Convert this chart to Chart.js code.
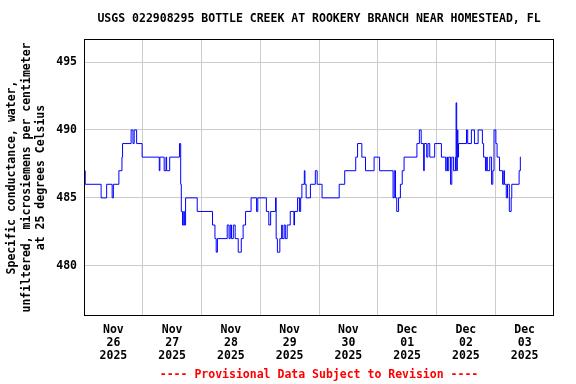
<!DOCTYPE html>
<html lang="en">
<head>
    <meta charset="UTF-8">
    <title>Bottle Creek Specific Conductance</title>
    <script src="https://cdn.jsdelivr.net/npm/chart.js"></script>
    <style>
        body {
            margin: 0;
            padding: 0;
            background-color: #fff;
        }
        canvas {
            display: block;
        }
    </style>
</head>
<body>
    <canvas id="condChart" width="576" height="384"></canvas>

    <script>
        // hours since Nov 26 2025 00:00 where the reading changes
        const hours = [
            0, 0.5, 7, 9.25, 11.5, 12, 14.25, 15.5, 15.75, 19.25,
            20, 20.5, 21.5, 23.75, 30.75, 31, 32.75, 33.5, 33.75, 35,
            39, 39.5, 39.75, 40.25, 40.75, 41, 41.5, 46.25, 52.5, 53.5,
            54, 54.5, 58.5, 59.25, 59.75, 60.25, 61, 61.75, 63, 64.25,
            65, 66, 68.25, 70.5, 71, 74.5, 75.5, 76.25, 78.25, 78.5,
            79, 80, 80.75, 81, 81.75, 82.25, 83, 84.25, 85.75, 86,
            87.25, 88, 88.5, 89, 90, 90.25, 90.75, 92.5, 94.5, 95.25,
            97.25, 104.25, 106.5, 111, 111.75, 113.5, 115, 118.5, 120.75, 126.25,
            126.75, 127.25, 127.75, 128.5, 129.25, 130, 130.75, 136, 137, 137.75,
            138.75, 139, 140, 140.5, 141.25, 143.25, 146, 147.75, 148.25, 148.5,
            149, 149.75, 150.25, 151, 151.75, 152, 152.25, 152.5, 152.75, 153,
            156.25, 156.75, 158.25, 159.5, 161, 162.75, 163.25, 164, 164.5, 164.75,
            165.75, 166.5, 167, 167.5, 168.25, 168.75, 169.75, 171, 171.5, 171.75,
            172.5, 173, 173.75, 174.5, 174.75, 177.75, 178.25, 178.5
        ];
        const conductance = [
            487, 486, 485, 486, 485, 486, 487, 488, 489, 490,
            489, 490, 489, 488, 487, 488, 487, 488, 487, 488,
            489, 486, 484, 483, 484, 483, 485, 484, 483, 482,
            481, 482, 483, 482, 483, 482, 483, 482, 481, 482,
            483, 484, 485, 484, 485, 484, 483, 484, 485, 482,
            481, 482, 483, 482, 483, 482, 483, 484, 483, 484,
            485, 484, 485, 486, 487, 486, 485, 486, 487, 486,
            485, 486, 487, 488, 489, 488, 487, 488, 487, 485,
            487, 485, 484, 485, 486, 487, 488, 489, 490, 489,
            487, 489, 488, 489, 488, 489, 488, 487, 488, 487,
            488, 486, 488, 487, 488, 492, 487, 490, 488, 489,
            490, 489, 490, 489, 490, 489, 488, 487, 488, 487,
            488, 486, 487, 490, 489, 488, 487, 486, 487, 486,
            485, 486, 484, 485, 486, 487, 488, 488
        ];

        const tickMonths = ['Nov', 'Nov', 'Nov', 'Nov', 'Nov', 'Dec', 'Dec', 'Dec'];
        const tickDays = ['26', '27', '28', '29', '30', '01', '02', '03'];
        const tickYear = '2025';
        const yTicks = [480, 485, 490, 495];

        const chartTitle = 'USGS 022908295 BOTTLE CREEK AT ROOKERY BRANCH NEAR HOMESTEAD, FL';
        const yTitle = ['Specific conductance, water,', 'unfiltered, microsiemens per centimeter', 'at 25 degrees Celsius'];
        const footer = '---- Provisional Data Subject to Revision ----';

        const FONT = 'bold 11.5px "DejaVu Sans Mono"';

        // title, axis caption, footer and plot frame
        const decorations = {
            id: 'decorations',
            afterDraw(chart) {
                const ctx = chart.ctx;
                const a = chart.chartArea;
                const cx = (a.left + a.right) / 2;
                ctx.save();
                ctx.font = FONT;
                ctx.textAlign = 'center';
                ctx.textBaseline = 'middle';
                ctx.fillStyle = '#000';
                ctx.fillText(chartTitle, cx, 19);

                ctx.fillStyle = '#ff0000';
                ctx.fillText(footer, cx, 375);

                ctx.fillStyle = '#000';
                const cy = (a.top + a.bottom) / 2;
                yTitle.forEach((line, i) => {
                    ctx.save();
                    ctx.translate(12 + i * 14.7, cy);
                    ctx.rotate(-Math.PI / 2);
                    ctx.fillText(line, 0, 0);
                    ctx.restore();
                });

                ctx.strokeStyle = '#000';
                ctx.lineWidth = 1;
                ctx.strokeRect(a.left + 0.5, a.top + 0.5, a.right - a.left - 1, a.bottom - a.top - 1);
                ctx.restore();
            }
        };

        const points = hours.map((h, i) => ({ x: h, y: conductance[i] }));

        new Chart(document.getElementById('condChart'), {
            type: 'line',
            data: {
                datasets: [{
                    data: points,
                    borderColor: '#0000ff',
                    borderWidth: 1,
                    pointRadius: 0,
                    stepped: true,
                    fill: false
                }]
            },
            options: {
                responsive: false,
                animation: false,
                layout: { padding: { left: 0, right: 22, top: 39, bottom: 0 } },
                plugins: {
                    legend: { display: false },
                    tooltip: { enabled: false }
                },
                scales: {
                    x: {
                        type: 'linear',
                        min: 0,
                        max: 192,
                        afterBuildTicks: axis => {
                            const t = [];
                            for (let h = 0; h <= 192; h += 12) t.push({ value: h });
                            axis.ticks = t;
                        },
                        afterFit: axis => { axis.height = 68; },
                        border: { display: false },
                        grid: {
                            drawTicks: false,
                            color: c => (c.tick && c.tick.value % 24 === 0 && c.tick.value > 0 && c.tick.value < 192) ? '#cccccc' : 'rgba(0,0,0,0)',
                            lineWidth: 1
                        },
                        ticks: {
                            autoSkip: false,
                            maxRotation: 0,
                            padding: 8,
                            color: '#000',
                            font: { family: 'DejaVu Sans Mono', size: 11.5, weight: 'bold', lineHeight: 1.1 },
                            callback: v => {
                                if (v % 24 !== 12) return '';
                                const d = (v - 12) / 24;
                                return [tickMonths[d], tickDays[d], tickYear];
                            }
                        }
                    },
                    y: {
                        min: 476.3,
                        max: 496.7,
                        afterBuildTicks: axis => { axis.ticks = yTicks.map(v => ({ value: v })); },
                        afterFit: axis => { axis.width = 84; },
                        border: { display: false },
                        grid: { drawTicks: false, color: '#cccccc', lineWidth: 1 },
                        ticks: {
                            padding: 7,
                            color: '#000',
                            font: { family: 'DejaVu Sans Mono', size: 11.5, weight: 'bold' }
                        }
                    }
                }
            },
            plugins: [decorations]
        });
    </script>
</body>
</html>
